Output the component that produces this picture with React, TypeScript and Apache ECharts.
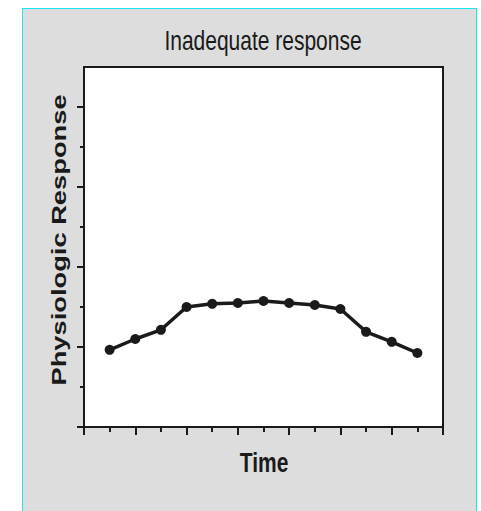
import React, { useEffect, useRef } from "react";
import * as echarts from "echarts";

const TITLE = "Inadequate response";
const X_NAME = "Time";
const Y_NAME = "Physiologic Response";
const TIME = [1, 2, 3, 4, 5, 6, 7, 8, 9, 10, 11, 12, 13];
const RESPONSE = [1.93, 2.2, 2.43, 3.0, 3.08, 3.1, 3.15, 3.1, 3.05, 2.95, 2.38, 2.13, 1.85];
const Y_TICK_CATS = ["0", "1", "2", "3", "4", "5", "6", "7", "8", "9"];

const FONT = "'Liberation Sans', Arial, Helvetica, sans-serif";
const INK = "#1a1a1a";

export default function App() {
  const ref = useRef<HTMLDivElement>(null);
  useEffect(() => {
    if (!ref.current) return;
    const chart = echarts.init(ref.current, null, { renderer: "svg" });
    const tickCatAxis = (keep: (i: number) => boolean, len: number) => ({
      type: "category",
      data: Y_TICK_CATS,
      boundaryGap: false,
      position: "left",
      axisLine: { show: false },
      axisLabel: { show: false },
      splitLine: { show: false },
      axisTick: {
        show: true,
        length: len,
        interval: (i: number) => keep(i),
        lineStyle: { color: INK, width: 2 },
      },
    });
    chart.setOption({
      animation: false,
      backgroundColor: "transparent",
      grid: {
        left: 84,
        right: 38,
        top: 67,
        bottom: 84,
        show: true,
        backgroundColor: "#ffffff",
        borderColor: INK,
        borderWidth: 2,
      },
      xAxis: {
        type: "value",
        min: 0,
        max: 14,
        interval: 2,
        axisLine: { show: true, lineStyle: { color: INK, width: 2 } },
        axisTick: { show: true, length: 8, lineStyle: { color: INK, width: 2 } },
        minorTick: { show: true, splitNumber: 2, length: 5, lineStyle: { color: INK, width: 2 } },
        axisLabel: { show: false },
        splitLine: { show: false },
        minorSplitLine: { show: false },
      },
      yAxis: [
        {
          type: "value",
          min: 0,
          max: 9,
          interval: 1,
          axisLine: { show: true, lineStyle: { color: INK, width: 2 } },
          axisTick: { show: false },
          axisLabel: { show: false },
          splitLine: { show: false },
        },
        tickCatAxis((i) => i % 2 === 0 && i < 9, 7),
        tickCatAxis((i) => i % 2 === 1 && i < 9, 4),
      ],
      series: [
        {
          type: "line",
          data: TIME.map((t, i) => [t, RESPONSE[i]]),
          yAxisIndex: 0,
          symbol: "circle",
          symbolSize: 10,
          lineStyle: { color: INK, width: 3.5 },
          itemStyle: { color: INK },
        },
      ],
      graphic: [
        {
          type: "text",
          x: 263,
          y: 40,
          scaleY: 1.3,
          style: {
            text: TITLE,
            x: 0,
            y: 0,
            align: "center",
            verticalAlign: "middle",
            textAlign: "center",
            textVerticalAlign: "middle",
            fontFamily: FONT,
            fontSize: 21,
            fill: INK,
          },
        },
        {
          type: "text",
          x: 264,
          y: 462,
          scaleY: 1.3,
          style: {
            text: X_NAME,
            x: 0,
            y: 0,
            align: "center",
            verticalAlign: "middle",
            textAlign: "center",
            textVerticalAlign: "middle",
            fontFamily: FONT,
            fontWeight: "bold",
            fontSize: 21,
            fill: INK,
          },
        },
        {
          type: "text",
          x: 59,
          y: 240,
          rotation: Math.PI / 2,
          scaleX: 1.3,
          style: {
            text: Y_NAME,
            x: 0,
            y: 0,
            align: "center",
            verticalAlign: "middle",
            textAlign: "center",
            textVerticalAlign: "middle",
            fontFamily: FONT,
            fontWeight: "bold",
            fontSize: 21,
            fill: INK,
          },
        },
      ],
    });
    return () => chart.dispose();
  }, []);

  return (
    <div style={{ position: "fixed", left: 0, top: 0, width: 481, height: 511, background: "#ffffff", overflow: "hidden" }}>
      <div
        style={{
          position: "absolute",
          left: 22,
          top: 8,
          width: 453,
          height: 520,
          background: "#dddddd",
          border: "1.5px solid #19e6ef",
        }}
      />
      <div ref={ref} style={{ position: "absolute", left: 0, top: 0, width: 481, height: 511 }} />
    </div>
  );
}
